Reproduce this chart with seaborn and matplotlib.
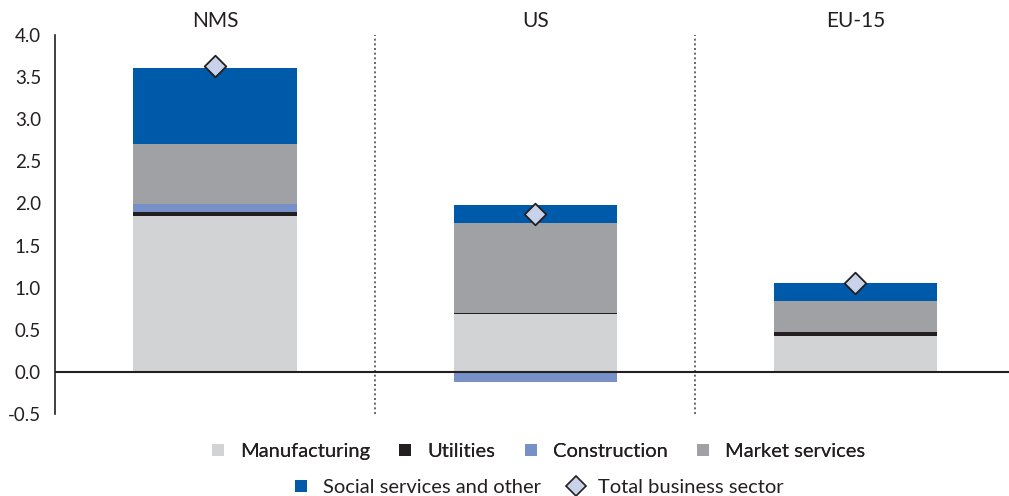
import numpy as np
import pandas as pd
import matplotlib
matplotlib.use("Agg")
import matplotlib.pyplot as plt
from matplotlib.lines import Line2D
import seaborn as sns

# contributions by sector (percentage points)
regions = ["NMS", "US", "EU-15"]
manufacturing = [1.85, 0.69, 0.43]
utilities = [0.05, 0.01, 0.04]
construction = [0.09, -0.12, 0.00]
market_services = [0.71, 1.07, 0.37]
social_services = [0.91, 0.21, 0.21]
total_business = [3.63, 1.88, 1.05]

sectors = ["Manufacturing", "Utilities", "Construction", "Market services",
           "Social services and other"]
sector_values = [manufacturing, utilities, construction, market_services,
                 social_services]
sector_colors = ["#d2d3d5", "#231f20", "#7890c8", "#a0a1a5", "#005aaa"]
diamond_color = "#c8d2ea"
dark = "#231f20"

sns.set_style("white")
plt.rcParams["font.family"] = ["Lato", "DejaVu Sans"]
plt.rcParams["text.color"] = dark

fig = plt.figure(figsize=(10.09, 4.96), dpi=100)
ax = fig.add_axes([55 / 1009, 82 / 496, 954 / 1009, 379 / 496])

# stack positives upwards and negatives downwards
pos_base = np.zeros(len(regions))
neg_base = np.zeros(len(regions))
for name, vals, col in zip(sectors, sector_values, sector_colors):
    vals = np.array(vals)
    bottom = np.where(vals >= 0, pos_base, neg_base)
    df = pd.DataFrame({"region": regions, "value": vals})
    sns.barplot(data=df, x="region", y="value", order=regions, bottom=bottom,
                color=col, saturation=1, width=0.51, errorbar=None,
                linewidth=0, ax=ax)
    pos_base = pos_base + np.clip(vals, 0, None)
    neg_base = neg_base + np.clip(vals, None, 0)

tot_df = pd.DataFrame({"region": regions, "total": total_business})
sns.stripplot(data=tot_df, x="region", y="total", order=regions, jitter=False,
              marker="D", size=11, color=diamond_color, edgecolor=dark,
              linewidth=1.3, ax=ax, zorder=5)

ax.axhline(0, color=dark, lw=1.5, zorder=4)
for xs in [0.5, 1.5]:
    ax.axvline(xs, color="#505050", lw=1.2, ls=(0, (1.2, 1.6)), zorder=1)

ax.set_xlim(-0.5, 2.48)
ax.set_ylim(-0.5, 4.0)
ax.set_yticks(np.arange(-0.5, 4.01, 0.5))
ax.set_yticklabels([f"{v:.1f}" for v in np.arange(-0.5, 4.01, 0.5)])
ax.set_xlabel("")
ax.set_ylabel("")
ax.xaxis.tick_top()
ax.set_xticks(range(len(regions)))
ax.set_xticklabels(regions)
ax.tick_params(axis="x", length=0, pad=3, labelsize=15, colors=dark)
ax.tick_params(axis="y", direction="in", length=8, width=1, pad=10,
               labelsize=13.5, colors=dark)

sns.despine(ax=ax, top=True, right=True, bottom=True)
ax.spines["left"].set_color(dark)
ax.spines["left"].set_linewidth(1.2)

handles = [Line2D([], [], marker="s", ls="", markersize=9, color=c,
                  markeredgewidth=0, label=n)
           for n, c in zip(sectors, sector_colors)]
handles.append(Line2D([], [], marker="D", ls="", markersize=10,
                      markerfacecolor=diamond_color, markeredgecolor=dark,
                      markeredgewidth=1.2, label="Total business sector"))

leg_kw = dict(frameon=False, fontsize=14.5, handlelength=0.9,
              handletextpad=0.65, columnspacing=1.3, loc="center")
leg1 = fig.legend(handles=handles[:4], ncol=4,
                  bbox_to_anchor=(537 / 1009, 1 - 451 / 496), **leg_kw)
fig.add_artist(leg1)
fig.legend(handles=handles[4:], ncol=2,
           bbox_to_anchor=(538 / 1009, 1 - 487 / 496), **leg_kw)

fig.savefig("out.png", dpi=100)
